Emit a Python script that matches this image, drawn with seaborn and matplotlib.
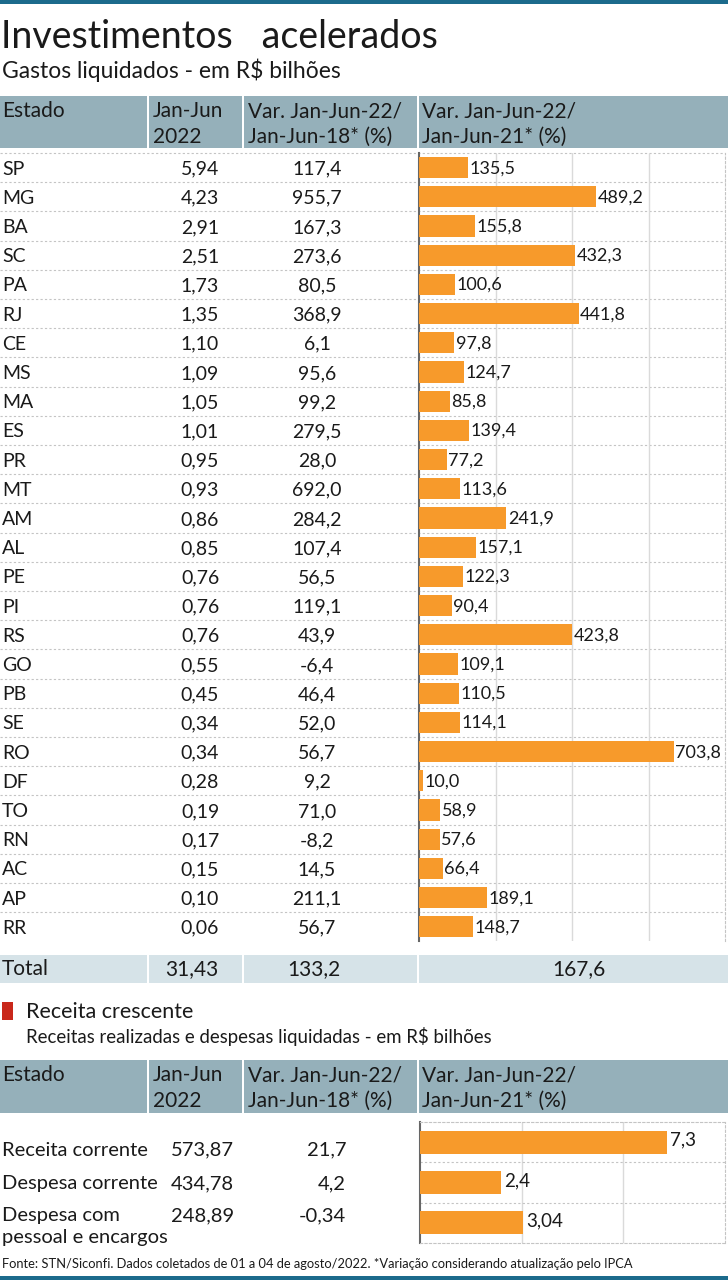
import matplotlib
matplotlib.use("Agg")
import matplotlib.pyplot as plt
import seaborn as sns
import pandas as pd
from matplotlib.patches import Rectangle

sns.set_theme(style="white")
plt.rcParams['font.family'] = ['Lato', 'DejaVu Sans']

# ---------------- data ----------------
states = ["SP", "MG", "BA", "SC", "PA", "RJ", "CE", "MS", "MA", "ES", "PR", "MT", "AM", "AL",
          "PE", "PI", "RS", "GO", "PB", "SE", "RO", "DF", "TO", "RN", "AC", "AP", "RR"]
gastos_2022 = [5.94, 4.23, 2.91, 2.51, 1.73, 1.35, 1.10, 1.09, 1.05, 1.01, 0.95, 0.93, 0.86, 0.85,
               0.76, 0.76, 0.76, 0.55, 0.45, 0.34, 0.34, 0.28, 0.19, 0.17, 0.15, 0.10, 0.06]
var_18 = [117.4, 955.7, 167.3, 273.6, 80.5, 368.9, 6.1, 95.6, 99.2, 279.5, 28.0, 692.0, 284.2, 107.4,
          56.5, 119.1, 43.9, -6.4, 46.4, 52.0, 56.7, 9.2, 71.0, -8.2, 14.5, 211.1, 56.7]
var_21 = [135.5, 489.2, 155.8, 432.3, 100.6, 441.8, 97.8, 124.7, 85.8, 139.4, 77.2, 113.6, 241.9, 157.1,
          122.3, 90.4, 423.8, 109.1, 110.5, 114.1, 703.8, 10.0, 58.9, 57.6, 66.4, 189.1, 148.7]
total_labels = ["Total", "31,43", "133,2", "167,6"]

items = ["Receita corrente", "Despesa corrente", "Despesa com\npessoal e encargos"]
items_2022 = ["573,87", "434,78", "248,89"]
items_var18 = ["21,7", "4,2", "-0,34"]
items_var21 = [7.3, 2.4, 3.04]
items_var21_lbl = ["7,3", "2,4", "3,04"]

header_cols = ["Estado", "Jan-Jun\n2022", "Var. Jan-Jun-22/\nJan-Jun-18* (%)", "Var. Jan-Jun-22/\nJan-Jun-21* (%)"]

# ---------------- style ----------------
W, H = 728, 1280
C_TOP = "#1c6b8c"
C_HEAD = "#95b0ba"
C_TOTAL = "#d6e3e8"
C_BAR = "#f79a2b"
C_RED = "#c9281b"
C_TXT = "#1a1a1a"
C_DOT = "#c4c4c4"
C_GRID = "#dadada"

def fmt(v, d):
    return f"{v:.{d}f}".replace(".", ",")

fig = plt.figure(figsize=(7.28, 12.8), dpi=100)
bg = fig.add_axes([0, 0, 1, 1])
bg.set_xlim(0, W)
bg.set_ylim(H, 0)
bg.axis("off")

def band(y0, y1, color):
    bg.add_patch(Rectangle((0, y0), W, y1 - y0, color=color, lw=0, zorder=1))
    for xd in (148, 243, 418):
        bg.add_patch(Rectangle((xd - 1, y0), 2, y1 - y0, color="white", lw=0, zorder=2))

# top & bottom lines
bg.add_patch(Rectangle((0, 0), W, 4, color=C_TOP, lw=0))
bg.add_patch(Rectangle((0, 1276), W, 4, color=C_TOP, lw=0))

# title
bg.text(1, 37, "Investimentos   acelerados", fontsize=27, color=C_TXT, va="center")
bg.text(2, 70, "Gastos liquidados - em R\\$ bilhões", fontsize=16.5, color=C_TXT, va="center")

def header(y0, y1):
    band(y0, y1, C_HEAD)
    xs = [2, 153, 248, 422]
    for x, t in zip(xs, header_cols):
        l = t.split("\n")
        bg.text(x, y0 + 15, l[0], fontsize=15, color=C_TXT, va="center", zorder=3)
        if len(l) > 1:
            bg.text(x, y0 + 41, l[1], fontsize=15, color=C_TXT, va="center", zorder=3)

header(96, 148)

# table rows
top1, step1 = 153.0, 29.2
n = len(states)
for k in range(n):
    y = top1 + step1 * k
    bg.plot([0, 725], [y, y], color=C_DOT, lw=0.8, ls=(0, (2, 2)), zorder=1)
for i, s in enumerate(states):
    yc = top1 + step1 * (i + 0.5) + 1.5
    bg.text(2, yc, s, fontsize=14, color=C_TXT, va="center", ha="left")
    bg.text(200, yc, fmt(gastos_2022[i], 2), fontsize=14, color=C_TXT, va="center", ha="center")
    bg.text(317, yc, fmt(var_18[i], 1), fontsize=14, color=C_TXT, va="center", ha="center")

# total row
band(955, 983, C_TOTAL)
yt = 969
bg.text(2, yt, total_labels[0], fontsize=15, color=C_TXT, va="center")
bg.text(192, yt, total_labels[1], fontsize=15, color=C_TXT, va="center", ha="center")
bg.text(314, yt, total_labels[2], fontsize=15, color=C_TXT, va="center", ha="center")
bg.text(579, yt, total_labels[3], fontsize=15, color=C_TXT, va="center", ha="center")

# bar chart 1
def pix_axes(x0, y0, x1, y1):
    return fig.add_axes([x0 / W, 1 - y1 / H, (x1 - x0) / W, (y1 - y0) / H])

df1 = pd.DataFrame({"estado": states, "var": var_21})
ax1 = pix_axes(419, top1, 725, top1 + step1 * n)
ax1.patch.set_alpha(0)
sns.barplot(data=df1, x="var", y="estado", orient="h", color=C_BAR, saturation=1,
            width=0.72, linewidth=0, ax=ax1, zorder=3)
ax1.set_xlim(0, 846)
ax1.set_ylim(n - 0.5, -0.5)
for g in (212, 424, 636):
    ax1.axvline(g, color=C_GRID, lw=1, zorder=1)
for i, v in enumerate(var_21):
    ax1.text(v + 4, i + 0.02, fmt(v, 1), fontsize=13, color=C_TXT, va="center", ha="left", zorder=4)
ax1.set_xlabel(""); ax1.set_ylabel("")
ax1.set_xticks([]); ax1.set_yticks([])
for sp in ("top", "bottom"):
    ax1.spines[sp].set_visible(False)
ax1.spines["right"].set_visible(True)
ax1.spines["right"].set_color(C_DOT)
ax1.spines["right"].set_linestyle((0, (2, 2)))
ax1.spines["right"].set_linewidth(0.8)
ax1.spines["left"].set_visible(True)
ax1.spines["left"].set_color("#666666")
ax1.spines["left"].set_linewidth(1.5)

# section 2 title
bg.add_patch(Rectangle((2, 1002), 11, 18, color=C_RED, lw=0))
bg.text(26, 1012, "Receita crescente", fontsize=15.5, color=C_TXT, va="center")
bg.text(26, 1037, "Receitas realizadas e despesas liquidadas - em R\\$ bilhões", fontsize=13.4,
        color=C_TXT, va="center")

header(1060, 1113)

# table 2
top2, bot2 = 1122.0, 1243.0
ytxt = [1150, 1184, 1216]
for i, it in enumerate(items):
    lines = it.split("\n")
    bg.text(2, ytxt[i], lines[0], fontsize=14.5, color=C_TXT, va="center")
    if len(lines) > 1:
        bg.text(2, ytxt[i] + 22, lines[1], fontsize=14.5, color=C_TXT, va="center")
    bg.text(234, ytxt[i], items_2022[i], fontsize=14.5, color=C_TXT, va="center", ha="right")
    bg.text(346, ytxt[i], items_var18[i], fontsize=14.5, color=C_TXT, va="center", ha="right")

df2 = pd.DataFrame({"item": items, "var": items_var21})
ax2 = pix_axes(420, top2, 725, bot2)
ax2.patch.set_alpha(0)
sns.barplot(data=df2, x="var", y="item", orient="h", color=C_BAR, saturation=1,
            width=0.57, linewidth=0, ax=ax2, zorder=3)
ax2.set_xlim(0, 9)
ax2.set_ylim(2.5, -0.5)
for g in (3, 6):
    ax2.axvline(g, color=C_GRID, lw=1, zorder=1)
for yb in (0.5, 1.5):
    ax2.axhline(yb, color=C_DOT, lw=0.8, ls=(0, (2, 2)), zorder=1)
for i, v in enumerate(items_var21):
    ax2.text(v + 0.08, i - 0.05, items_var21_lbl[i], fontsize=13.5, color=C_TXT,
             va="center", ha="left", zorder=4)
ax2.set_xlabel(""); ax2.set_ylabel("")
ax2.set_xticks([]); ax2.set_yticks([])
for sp in ("top", "bottom", "right"):
    ax2.spines[sp].set_visible(True)
    ax2.spines[sp].set_color(C_DOT)
    ax2.spines[sp].set_linestyle((0, (2, 2)))
    ax2.spines[sp].set_linewidth(0.8)
ax2.spines["left"].set_visible(True)
ax2.spines["left"].set_color("#666666")
ax2.spines["left"].set_linewidth(1.5)

# footer
bg.text(2, 1264, "Fonte: STN/Siconfi. Dados coletados de 01 a 04 de agosto/2022. *Variação considerando atualização pelo IPCA",
        fontsize=9.3, color=C_TXT, va="center")

fig.savefig("out.png", dpi=100)
